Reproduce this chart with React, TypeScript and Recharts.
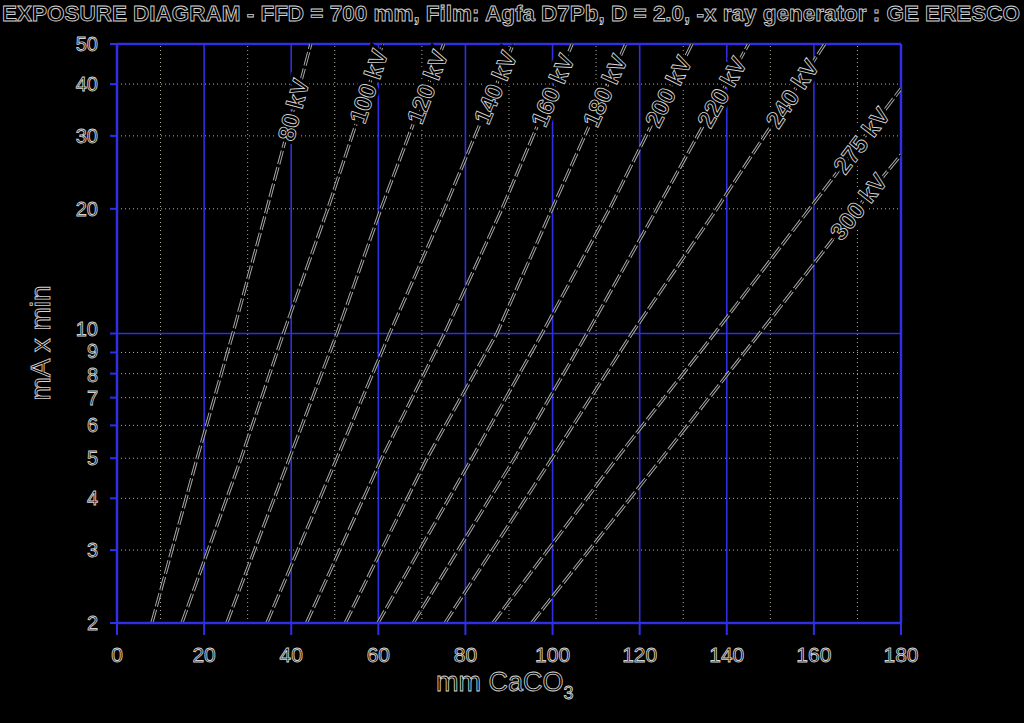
import React from 'react';
import { LineChart, Line, XAxis, YAxis, ReferenceLine, ReferenceDot } from 'recharts';

// ---- data ----
const TITLE = 'EXPOSURE DIAGRAM - FFD = 700 mm, Film: Agfa D7Pb, D = 2.0, -x ray generator : GE ERESCO';
const X_TICKS = [0, 20, 40, 60, 80, 100, 120, 140, 160, 180];
const Y_TICKS = [2, 3, 4, 5, 6, 7, 8, 9, 10, 20, 30, 40, 50];
const X_MAJOR = [20, 40, 60, 80, 100, 120, 140, 160];
const X_MINOR = [10, 30, 50, 70, 90, 110, 130, 150, 170];
const Y_MAJOR = [10];
const Y_MINOR = [3, 4, 5, 6, 7, 8, 9, 20, 30, 40];

const KV_LABELS = ['80 kV', '100 kV', '120 kV', '140 kV', '160 kV', '180 kV', '200 kV', '220 kV', '240 kV', '275 kV', '300 kV'];
const MA_LEVELS = [2, 5, 10, 20, 50];
const KV_80_MM = [8.0, 18.4, 26.6, 34.4, 44.5];
const KV_100_MM = [14.9, 28.5, 38.2, 48.4, 61.0];
const KV_120_MM = [25.2, 39.6, 50.5, 60.6, 75.0];
const KV_140_MM = [34.4, 50.5, 62.6, 75.2, 91.0];
const KV_160_MM = [43.5, 60.8, 75.2, 88.4, 104.5];
const KV_180_MM = [52.4, 71.2, 87.2, 99.9, 116.8];
const KV_200_MM = [59.9, 81.5, 97.6, 113.1, 132.0];
const KV_220_MM = [68.0, 91.3, 107.9, 124.0, 145.0];
const KV_240_MM = [75.3, 99.9, 118.2, 137.7, 162.5];
const KV_275_MM = [86.3, 114.8, 137.2, 159.0, 180];
const KV_275_MA = [2, 5, 10, 20, 39];
const KV_300_MM = [95.2, 125.1, 147.5, 169.8, 180];
const KV_300_MA = [2, 5, 10, 20, 27];
const LABEL_MA = [29, 32, 32, 32, 31.5, 31.5, 31.5, 31.5, 31.5, 24.5, 17];

// ---- styling / layout ----
const BLUE = '#2f2fe6';
const FONT = '"Liberation Sans", Arial, sans-serif';
const HOLLOW = { fill: '#000', stroke: '#d4d4d4', strokeWidth: 0.85 };
const PLOT_W = 784;
const PLOT_H = 579;
const PX_PER_MM = PLOT_W / 180;
const PX_PER_DEC = PLOT_H / Math.log10(25);
const Y_TICK_NUDGE: Record<number, number> = { 10: -5, 9: -1, 8: 1 };

const SERIES_MM = [KV_80_MM, KV_100_MM, KV_120_MM, KV_140_MM, KV_160_MM, KV_180_MM, KV_200_MM, KV_220_MM, KV_240_MM, KV_275_MM, KV_300_MM];
const SERIES_MA = [MA_LEVELS, MA_LEVELS, MA_LEVELS, MA_LEVELS, MA_LEVELS, MA_LEVELS, MA_LEVELS, MA_LEVELS, MA_LEVELS, KV_275_MA, KV_300_MA];

const SERIES = SERIES_MM.map((mm, i) => mm.map((x, j) => ({ x, y: SERIES_MA[i][j] })));

function labelPlacement(i: number) {
  const pts = SERIES[i];
  const ma = LABEL_MA[i];
  let k = 0;
  while (k < pts.length - 2 && pts[k + 1].y < ma) k++;
  const a = pts[k];
  const b = pts[k + 1];
  const t = (Math.log10(ma) - Math.log10(a.y)) / (Math.log10(b.y) - Math.log10(a.y));
  const x = a.x + t * (b.x - a.x);
  const dx = (b.x - a.x) * PX_PER_MM;
  const dy = (Math.log10(b.y) - Math.log10(a.y)) * PX_PER_DEC;
  const angle = (-Math.atan2(dy, dx) * 180) / Math.PI;
  return { x, y: ma, angle };
}

function makeLabelShape(text: string, angle: number) {
  return (p: any) => {
    const cx = p.cx;
    const cy = p.cy;
    if (cx == null || cy == null) return <g />;
    const common = {
      x: cx,
      y: cy,
      dx: 2,
      fontFamily: FONT,
      fontSize: 24,
      fontWeight: 'bold' as const,
      dominantBaseline: 'central' as const,
      textAnchor: 'start' as const,
      transform: `rotate(${angle} ${cx} ${cy})`,
    };
    return (
      <g>
        <text {...common} fill="#000" stroke="#000" strokeWidth={7}>{text}</text>
        <text {...common} {...HOLLOW}>{text}</text>
      </g>
    );
  };
}

const XTick = (p: any) => (
  <text x={p.x} y={654} textAnchor="middle" dominantBaseline="central" fontFamily={FONT} fontSize={21} {...HOLLOW}>
    {p.payload.value}
  </text>
);

const YTick = (p: any) => {
  const v = p.payload.value;
  const nudge = Y_TICK_NUDGE[v] || 0;
  return (
    <text x={p.x - 8} y={p.y + nudge} textAnchor="end" dominantBaseline="central" fontFamily={FONT} fontSize={20} {...HOLLOW}>
      {v}
    </text>
  );
};

export default function App() {
  return (
    <div style={{ position: 'fixed', left: 0, top: 0, width: 1024, height: 723, background: '#000', overflow: 'hidden' }}>
      <LineChart width={1024} height={723} margin={{ top: 44, right: 123, bottom: 0, left: 0 }}>
        <XAxis
          type="number"
          dataKey="x"
          domain={[0, 180]}
          ticks={X_TICKS}
          interval={0}
          allowDataOverflow
          height={100}
          axisLine={{ stroke: BLUE, strokeWidth: 2.5 }}
          tickLine={{ stroke: BLUE, strokeWidth: 2 }}
          tickSize={12}
          tickMargin={2}
          tick={XTick}
        />
        <YAxis
          type="number"
          scale="log"
          domain={[2, 50]}
          ticks={Y_TICKS}
          interval={0}
          allowDataOverflow
          width={117}
          axisLine={{ stroke: BLUE, strokeWidth: 2.5 }}
          tickLine={{ stroke: BLUE, strokeWidth: 2 }}
          tickSize={7}
          tickMargin={4}
          tick={YTick}
        />
        {X_MINOR.map((v) => (
          <ReferenceLine key={'xm' + v} x={v} stroke="#b0b0a0" strokeWidth={1} strokeDasharray="1 3" />
        ))}
        {Y_MINOR.map((v) => (
          <ReferenceLine key={'ym' + v} y={v} stroke="#b0b0a0" strokeWidth={1} strokeDasharray="1 3" />
        ))}
        {X_MAJOR.map((v) => (
          <ReferenceLine key={'xM' + v} x={v} stroke={BLUE} strokeWidth={1.6} />
        ))}
        {Y_MAJOR.map((v) => (
          <ReferenceLine key={'yM' + v} y={v} stroke={BLUE} strokeWidth={1.6} />
        ))}
        <ReferenceLine x={180} stroke={BLUE} strokeWidth={2.5} />
        <ReferenceLine y={50} stroke={BLUE} strokeWidth={2.5} />
        {SERIES.map((pts, i) => (
          <Line
            key={'o' + i}
            data={pts}
            dataKey="y"
            stroke="#a8a8a8"
            strokeWidth={3.2}
            strokeDasharray="14 3"
            dot={false}
            activeDot={false}
            isAnimationActive={false}
          />
        ))}
        {SERIES.map((pts, i) => (
          <Line
            key={'i' + i}
            data={pts}
            dataKey="y"
            stroke="#000"
            strokeWidth={1.2}
            dot={false}
            activeDot={false}
            isAnimationActive={false}
          />
        ))}
        {KV_LABELS.map((t, i) => {
          const pl = labelPlacement(i);
          return (
            <ReferenceDot
              key={'l' + i}
              x={pl.x}
              y={pl.y}
              r={1}
              ifOverflow="visible"
              shape={makeLabelShape(t, pl.angle)}
            />
          );
        })}
      </LineChart>
      <svg width={1024} height={723} style={{ position: 'absolute', left: 0, top: 0, pointerEvents: 'none' }}>
        <text x={2} y={21} fontFamily={FONT} fontSize={22} fontWeight="bold" textLength={1018} lengthAdjust="spacingAndGlyphs" {...HOLLOW}>
          {TITLE}
        </text>
        <text
          x={40}
          y={343}
          fontFamily={FONT}
          fontSize={28}
          textAnchor="middle"
          dominantBaseline="central"
          transform="rotate(-90 40 343)"
          {...HOLLOW}
        >
          mA x min
        </text>
        <text x={436} y={691} fontFamily={FONT} fontSize={27} {...HOLLOW}>
          mm CaCO
          <tspan fontSize={18} dy={8}>3</tspan>
        </text>
      </svg>
    </div>
  );
}
